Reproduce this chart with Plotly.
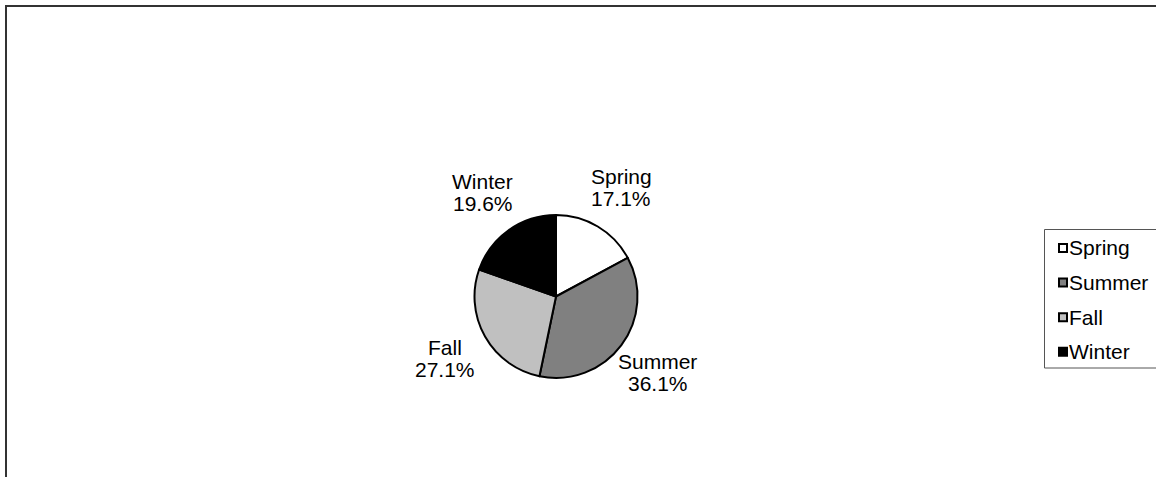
import math
import plotly.graph_objects as go

# Seasonal share data
seasons = ["Spring", "Summer", "Fall", "Winter"]
shares = [17.1, 36.1, 27.1, 19.6]
fills = ["#ffffff", "#808080", "#c0c0c0", "#000000"]

W, H = 1156, 477


def px(x):
    return x / W


def py(y):
    return 1 - y / H


font = dict(family="Liberation Sans, Arial, sans-serif", size=21, color="#000000")

# Pie placement (pixels)
pie_left, pie_right, pie_top, pie_bottom = 474.5, 637.5, 215, 378
cx_px = (pie_left + pie_right) / 2
cy_px = (pie_top + pie_bottom) / 2
label_dist = 127  # distance of label centres from the pie centre
line_gap = 11     # half spacing between the two label lines

fig = go.Figure()
fig.add_trace(go.Pie(
    labels=seasons,
    values=shares,
    sort=False,
    direction="clockwise",
    rotation=0,
    marker=dict(colors=fills, line=dict(color="#000000", width=2)),
    textinfo="none",
    showlegend=False,
    hoverinfo="skip",
    domain=dict(x=[px(pie_left), px(pie_right)], y=[py(pie_bottom), py(pie_top)]),
))

shapes = []
annotations = []

# Data labels (category name above, percentage below), placed along each slice's mid-angle
total = sum(shares)
cum = 0.0
for name, val in zip(seasons, shares):
    mid = (cum + val / 2) / total * 2 * math.pi  # clockwise from 12 o'clock
    cum += val
    lx = cx_px + label_dist * math.sin(mid)
    ly = cy_px - label_dist * math.cos(mid)
    pct = f"{val / total * 100:.1f}%"
    for txt, dy in ((name, -line_gap), (pct, line_gap)):
        annotations.append(dict(xref="paper", yref="paper", x=px(lx), y=py(ly + dy),
                                xanchor="center", yanchor="middle", text=txt,
                                showarrow=False, font=font))

# Outer chart frame (runs off the right and bottom edges)
shapes.append(dict(type="rect", xref="paper", yref="paper",
                   x0=px(6), x1=px(W + 20), y0=py(H + 20), y1=py(6),
                   line=dict(color="#333333", width=2), fillcolor="rgba(0,0,0,0)"))

# Legend box
shapes.append(dict(type="rect", xref="paper", yref="paper",
                   x0=px(1044.5), x1=px(W + 20), y0=py(368), y1=py(229.5),
                   line=dict(color="#555555", width=1), fillcolor="#ffffff"))

# Legend entries
for i, (name, col) in enumerate(zip(seasons, fills)):
    ey = 248 + i * 34.6
    shapes.append(dict(type="rect", xref="paper", yref="paper",
                       x0=px(1059), x1=px(1067), y0=py(ey + 4), y1=py(ey - 4),
                       line=dict(color="#000000", width=2), fillcolor=col))
    annotations.append(dict(xref="paper", yref="paper", x=px(1067), y=py(ey),
                            xanchor="left", yanchor="middle", text=name,
                            showarrow=False, font=font))

fig.update_layout(
    width=W, height=H,
    margin=dict(l=0, r=0, t=0, b=0),
    paper_bgcolor="#ffffff",
    plot_bgcolor="#ffffff",
    shapes=shapes,
    annotations=annotations,
)

fig.write_html("out.html")
